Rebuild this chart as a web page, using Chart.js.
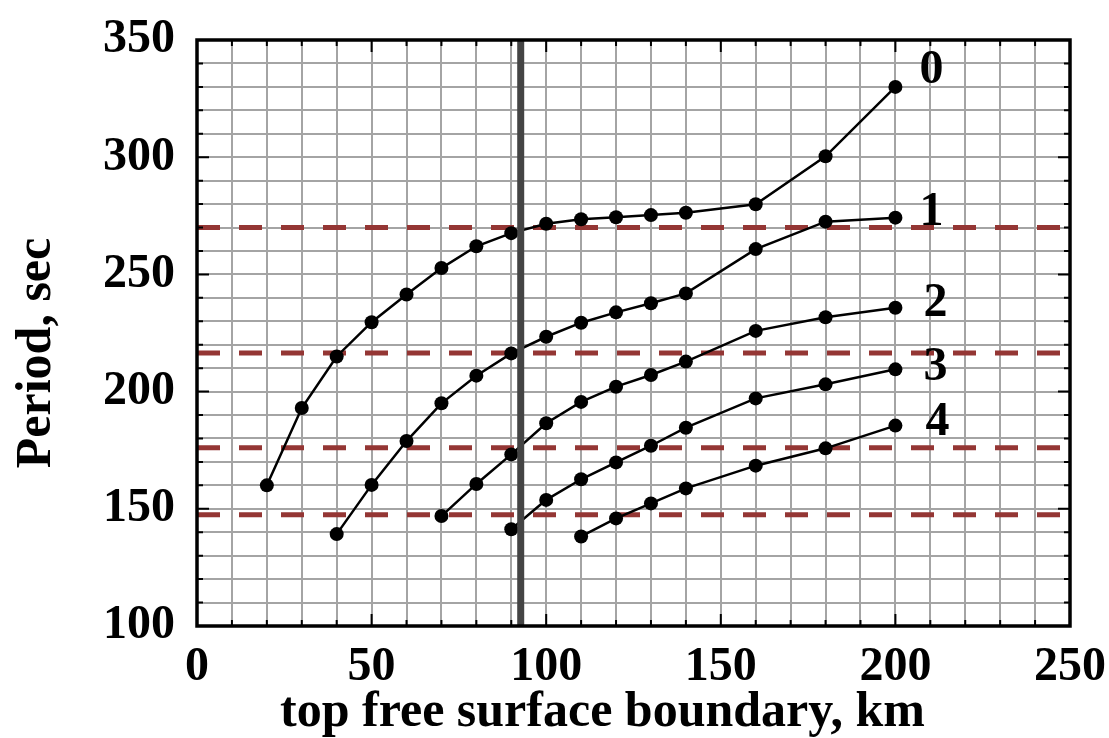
<!DOCTYPE html>
<html>
<head>
<meta charset="utf-8">
<script src="https://cdn.jsdelivr.net/npm/chart.js@4.4.1/dist/chart.umd.min.js"></script>
<style>
  html, body { margin: 0; padding: 0; background: #fff; }
  canvas { display: block; }
</style>
</head>
<body>
<canvas id="periodChart" width="1109" height="738"></canvas>
<script>
// depth of the top free surface boundary (km) for each mode
const depth0 = [20, 30, 40, 50, 60, 70, 80, 90, 100, 110, 120, 130, 140, 160, 180, 200];
const depth1 = [40, 50, 60, 70, 80, 90, 100, 110, 120, 130, 140, 160, 180, 200];
const depth2 = [70, 80, 90, 100, 110, 120, 130, 140, 160, 180, 200];
const depth3 = [90, 100, 110, 120, 130, 140, 160, 180, 200];
const depth4 = [110, 120, 130, 140, 160, 180, 200];

// period (sec) per mode
const period0 = [160, 193, 215, 229.6, 241.4, 252.7, 262, 267.6, 271.6, 273.5, 274.4, 275.3, 276.3, 279.9, 300.4, 330];
const period1 = [139.2, 160.2, 178.9, 195, 206.8, 216.3, 223.4, 229.4, 233.8, 237.7, 241.9, 260.8, 272.5, 274.2];
const period2 = [146.9, 160.6, 173.2, 186.5, 195.6, 202.1, 207.1, 212.8, 225.9, 231.7, 235.8];
const period3 = [141.3, 153.8, 162.6, 169.8, 176.9, 184.6, 197.1, 203.1, 209.5];
const period4 = [138.2, 145.9, 152.3, 158.7, 168.4, 175.8, 185.5];

const modeNames = ['0', '1', '2', '3', '4'];

// reference periods (dashed) and boundary depth (vertical bar)
const refPeriods = [270, 216.5, 176, 147.5];
const boundaryDepth = 92.7;

const xRange = [0, 250];
const yRange = [100, 350];

const depths = [depth0, depth1, depth2, depth3, depth4];
const periods = [period0, period1, period2, period3, period4];

const serif = 'Liberation Serif, Times New Roman, serif';

const datasets = [];

periods.forEach((p, i) => {
    datasets.push({
        label: 'mode ' + modeNames[i],
        data: p.map((v, j) => ({ x: depths[i][j], y: v })),
        borderColor: '#000',
        backgroundColor: '#000',
        borderWidth: 2.5,
        pointRadius: 7,
        pointBorderWidth: 0,
        pointBackgroundColor: '#000',
        tension: 0,
        order: 2
    });
});

refPeriods.forEach(v => {
    datasets.push({
        label: 'ref ' + v,
        data: [{ x: xRange[0], y: v }, { x: xRange[1], y: v }],
        borderColor: '#943634',
        borderWidth: 5,
        borderDash: [23, 19],
        pointRadius: 0,
        order: 3
    });
});

datasets.push({
    label: 'boundary',
    data: [{ x: boundaryDepth, y: yRange[0] }, { x: boundaryDepth, y: yRange[1] }],
    borderColor: '#444',
    borderWidth: 7,
    pointRadius: 0,
    order: 1
});

// frame, inward ticks, axis titles and mode numbers
const decorations = {
    id: 'decorations',
    afterDatasetsDraw(chart) {
        const ctx = chart.ctx;
        const a = chart.chartArea;
        const xs = chart.scales.x;
        const ys = chart.scales.y;
        ctx.save();

        ctx.strokeStyle = '#000';
        ctx.lineWidth = 2;
        for (let v = xRange[0] + 10; v < xRange[1]; v += 10) {
            const px = xs.getPixelForValue(v);
            const len = v % 50 === 0 ? 12 : 6;
            ctx.beginPath();
            ctx.moveTo(px, a.bottom); ctx.lineTo(px, a.bottom - len);
            ctx.moveTo(px, a.top); ctx.lineTo(px, a.top + len);
            ctx.stroke();
        }
        for (let v = yRange[0] + 10; v < yRange[1]; v += 10) {
            const py = ys.getPixelForValue(v);
            const len = v % 50 === 0 ? 12 : 6;
            ctx.beginPath();
            ctx.moveTo(a.left, py); ctx.lineTo(a.left + len, py);
            ctx.moveTo(a.right, py); ctx.lineTo(a.right - len, py);
            ctx.stroke();
        }

        ctx.lineWidth = 3.5;
        ctx.strokeRect(a.left, a.top, a.right - a.left, a.bottom - a.top);

        // mode numbers sit just right of each curve's last point
        ctx.fillStyle = '#000';
        ctx.font = 'bold 48px ' + serif;
        ctx.textAlign = 'center';
        ctx.textBaseline = 'middle';
        const dx = [36, 36, 40, 40, 42];
        const dy = [-16, -5, -4, -2, -3];
        periods.forEach((p, i) => {
            const last = p.length - 1;
            const px = xs.getPixelForValue(depths[i][last]) + dx[i];
            const py = ys.getPixelForValue(p[last]) + dy[i];
            ctx.fillText(modeNames[i], px, py);
        });

        ctx.font = 'bold 50px ' + serif;
        ctx.textBaseline = 'alphabetic';
        ctx.fillText('top free surface boundary, km', (a.left + a.right) / 2 - 31, 726);

        ctx.translate(50, (a.top + a.bottom) / 2 + 20);
        ctx.rotate(-Math.PI / 2);
        ctx.fillText('Period, sec', 0, 0);
        ctx.restore();
    }
};

const ctx = document.getElementById('periodChart').getContext('2d');
new Chart(ctx, {
    type: 'line',
    data: { datasets: datasets },
    options: {
        responsive: false,
        animation: false,
        layout: { padding: { left: 0, top: 40, right: 39, bottom: 0 } },
        plugins: {
            legend: { display: false },
            tooltip: { enabled: false }
        },
        scales: {
            x: {
                type: 'linear',
                min: xRange[0],
                max: xRange[1],
                afterFit(scale) {
                    scale.height = 112;
                    scale.paddingLeft = 0;
                    scale.paddingRight = 0;
                },
                grid: { color: '#a4a4a4', lineWidth: 2, drawTicks: false },
                border: { display: false },
                ticks: {
                    stepSize: 10,
                    autoSkip: false,
                    maxRotation: 0,
                    padding: 13,
                    color: '#000',
                    font: { family: serif, weight: 'bold', size: 48 },
                    callback: v => (v % 50 === 0 ? String(v) : '')
                }
            },
            y: {
                min: yRange[0],
                max: yRange[1],
                afterFit(scale) {
                    scale.width = 197;
                    scale.paddingTop = 0;
                    scale.paddingBottom = 0;
                },
                grid: { color: '#a4a4a4', lineWidth: 2, drawTicks: false },
                border: { display: false },
                ticks: {
                    stepSize: 10,
                    autoSkip: false,
                    padding: 22,
                    color: '#000',
                    font: { family: serif, weight: 'bold', size: 48 },
                    callback: v => (v % 50 === 0 ? String(v) : '')
                }
            }
        }
    },
    plugins: [decorations]
});
</script>
</body>
</html>
